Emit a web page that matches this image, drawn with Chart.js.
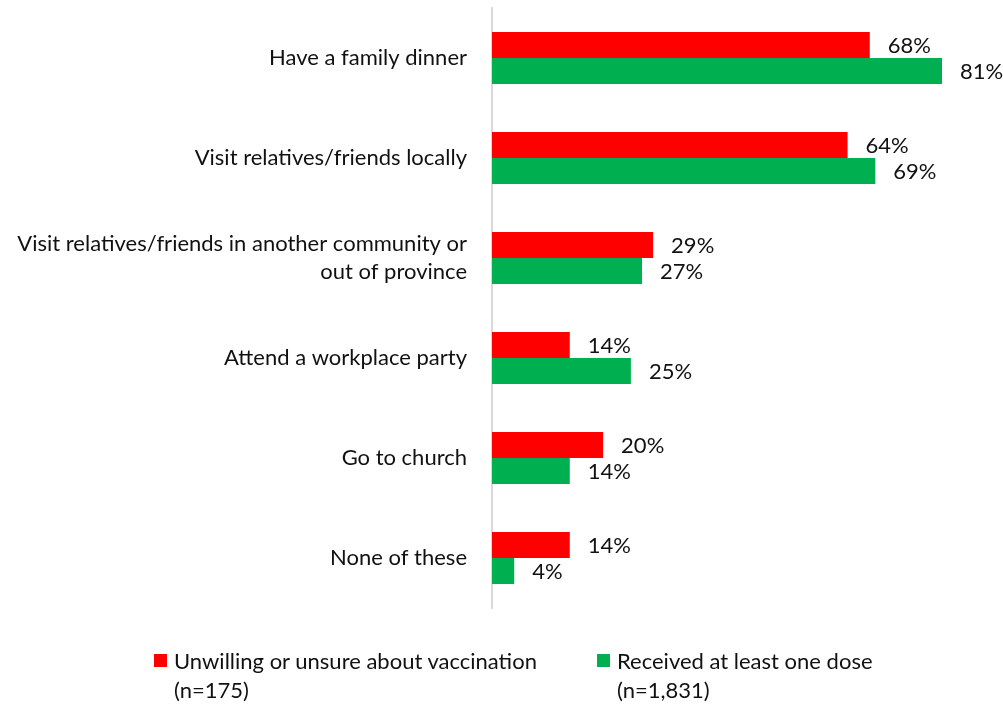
<!DOCTYPE html>
<html>
<head>
<meta charset="utf-8">
<script src="https://cdn.jsdelivr.net/npm/chart.js@4.4.1/dist/chart.umd.min.js"></script>
<style>
  body { margin: 0; background: #fff; }
  .wrap { position: relative; width: 1003px; height: 704px; }
  .legend { position: absolute; top: 646px; left: 0; width: 1003px; font-family: Lato, sans-serif; font-size: 22px; color: #111; }
  .item { position: absolute; top: 0; line-height: 29px; }
  .item .sw { position: absolute; left: -20px; top: 8px; width: 13px; height: 13px; }
</style>
</head>
<body>
<div class="wrap">
  <canvas id="myChart" width="1003" height="704"></canvas>
  <div class="legend">
    <div class="item" style="left:174px"><span class="sw" style="background:#FF0000"></span>Unwilling or unsure about vaccination<br>(n=175)</div>
    <div class="item" style="left:617px"><span class="sw" style="background:#00B050"></span>Received at least one dose<br>(n=1,831)</div>
  </div>
</div>
<script>
const categories = [
  'Have a family dinner',
  'Visit relatives/friends locally',
  ['Visit relatives/friends in another community or', 'out of province'],
  'Attend a workplace party',
  'Go to church',
  'None of these'
];
const unwilling = [68, 64, 29, 14, 20, 14];
const received = [81, 69, 27, 25, 14, 4];

// percent labels just past the end of each bar
const valueLabels = {
  id: 'valueLabels',
  afterDatasetsDraw(chart) {
    const c = chart.ctx;
    c.save();
    c.font = '22px Lato, sans-serif';
    c.fillStyle = '#111';
    c.textBaseline = 'middle';
    chart.data.datasets.forEach((ds, i) => {
      chart.getDatasetMeta(i).data.forEach((bar, j) => {
        c.fillText(ds.data[j] + '%', bar.x + 18, bar.y + 1);
      });
    });
    c.restore();
  }
};

const ctx = document.getElementById('myChart').getContext('2d');

new Chart(ctx, {
  type: 'bar',
  data: {
    labels: categories,
    datasets: [
      {
        label: 'Unwilling or unsure about vaccination (n=175)',
        data: unwilling,
        backgroundColor: '#FF0000',
        categoryPercentage: 0.52,
        barPercentage: 1.0
      },
      {
        label: 'Received at least one dose (n=1,831)',
        data: received,
        backgroundColor: '#00B050',
        categoryPercentage: 0.52,
        barPercentage: 1.0
      }
    ]
  },
  options: {
    indexAxis: 'y',
    responsive: false,
    animation: false,
    layout: { padding: { top: 8, right: 11, bottom: 96, left: 0 } },
    plugins: {
      legend: { display: false },
      tooltip: { enabled: false }
    },
    scales: {
      x: {
        display: false,
        min: 0,
        max: 90
      },
      y: {
        grid: { display: false },
        border: { color: '#D9D9D9', width: 2 },
        ticks: {
          color: '#111',
          font: { family: 'Lato, sans-serif', size: 22, lineHeight: 1.28 },
          padding: 17
        },
        afterFit(scale) {
          scale.width = 492;
          scale.paddingTop = 0;
          scale.paddingBottom = 0;
        }
      }
    }
  },
  plugins: [valueLabels]
});
</script>
</body>
</html>
